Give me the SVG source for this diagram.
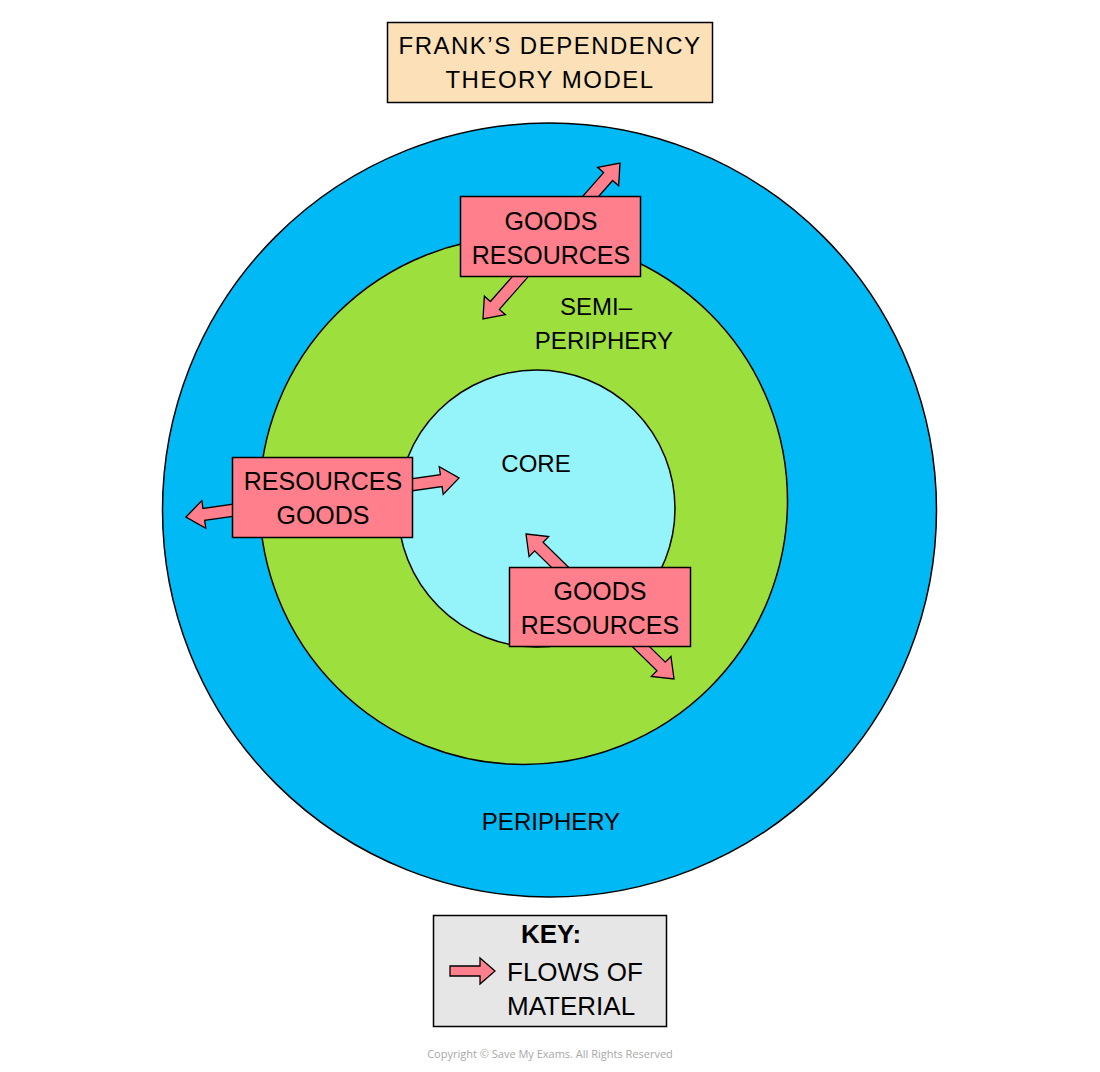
<svg xmlns="http://www.w3.org/2000/svg" width="1100" height="1072" viewBox="0 0 1100 1072">
<style>
  .ring{stroke:#000;stroke-width:1.5}
  .box{stroke:#000;stroke-width:1.5}
  .lbl{fill:#e83a6a}
  .flow{fill:#ff808c;stroke:#000;stroke-width:1.3;stroke-linejoin:miter}
  text{font-family:"Liberation Sans",Arial,sans-serif;fill:#000}
  .t{font-size:24px;letter-spacing:1.5px;text-anchor:middle}
  .b{font-size:25px;text-anchor:middle}
  .r{font-size:24px;text-anchor:middle}
  .k{font-size:26px}
</style>
<rect width="1100" height="1072" fill="#fff"/>
<g id="periphery"><circle class="ring" cx="549.5" cy="510" r="387" fill="#00b9f5"/></g>
<g id="semi-periphery"><circle class="ring" cx="523.5" cy="500.5" r="264" fill="#9de03e"/></g>
<g id="core"><circle class="ring" cx="536.5" cy="508.5" r="138.5" fill="#94f4fa"/></g>
<g id="connectors">
  <path class="flow" transform="translate(483,319) rotate(-48.71)" d="M0,0 L18,-14 L18,-6 L189.6,-6 L189.6,-14 L207.6,0 L189.6,14 L189.6,6 L18,6 L18,14 Z"/>
  <path class="flow" transform="translate(186,517) rotate(-8.13)" d="M0,0 L18,-14 L18,-6 L257.8,-6 L257.8,-14 L275.8,0 L257.8,14 L257.8,6 L18,6 L18,14 Z"/>
  <path class="flow" transform="translate(526,534) rotate(44.41)" d="M0,0 L18,-14 L18,-6 L189.2,-6 L189.2,-14 L207.2,0 L189.2,14 L189.2,6 L18,6 L18,14 Z"/>
</g>
<g id="title">
  <rect class="box" x="387.5" y="22.5" width="325" height="80" fill="#fbe0b8"/>
  <text class="t" x="550" y="54">FRANK’S DEPENDENCY</text>
  <text class="t" x="550" y="88">THEORY MODEL</text>
</g>
<g id="box-top">
  <rect class="box" x="460.5" y="196.5" width="180" height="80" fill="#ff808c"/>
  <text class="b" x="551" y="230">GOODS</text>
  <text class="b" x="551" y="264">RESOURCES</text>
</g>
<g id="box-left">
  <rect class="box" x="232.5" y="457.5" width="180" height="80" fill="#ff808c"/>
  <text class="b" x="323" y="490">RESOURCES</text>
  <text class="b" x="323" y="524">GOODS</text>
</g>
<g id="box-right">
  <rect class="box" x="509.5" y="567.5" width="181" height="79" fill="#ff808c"/>
  <text class="b" x="600" y="600">GOODS</text>
  <text class="b" x="600" y="634">RESOURCES</text>
</g>
<g id="labels">
  <text class="r" x="596" y="315">SEMI–</text>
  <text class="r" x="604" y="349">PERIPHERY</text>
  <text class="r" x="536" y="472">CORE</text>
  <text class="r" x="551" y="830">PERIPHERY</text>
</g>
<g id="key">
  <rect class="box" x="433.5" y="915.5" width="233" height="111" fill="#e6e6e6"/>
  <text class="k" x="551" y="943" text-anchor="middle" font-weight="bold">KEY:</text>
  <path class="flow" d="M450,966 L480,966 L480,958 L495,971 L480,984 L480,976 L450,976 Z"/>
  <text class="k" x="507" y="981">FLOWS OF</text>
  <text class="k" x="507" y="1015">MATERIAL</text>
</g>
<text x="550" y="1058" text-anchor="middle" style="font-family:'Open Sans',sans-serif;font-size:11px;fill:#a8a8a8">Copyright © Save My Exams. All Rights Reserved</text>
</svg>
